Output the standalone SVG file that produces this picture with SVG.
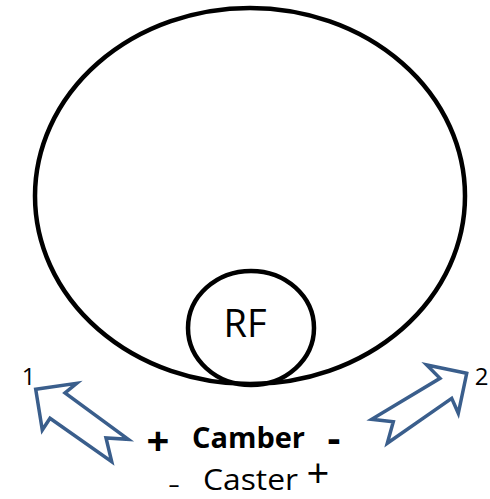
<svg xmlns="http://www.w3.org/2000/svg" width="490" height="499" viewBox="0 0 490 499">
<style>
.ring{fill:none;stroke:#000;stroke-width:4.5}
.arrow{fill:#fff;stroke:#3A5E8C;stroke-width:3.5;stroke-linejoin:miter}
.t{font-family:"Open Sans","Liberation Sans",sans-serif;fill:#000}
.b{font-weight:bold}
</style>
<rect width="490" height="499" fill="#fff"/>
<g id="wheel"><ellipse class="ring" cx="250" cy="196" rx="215" ry="188"/></g>
<g id="rf"><ellipse class="ring" cx="251" cy="328" rx="63" ry="57"/><text class="t" x="245" y="337" font-size="38" text-anchor="middle">RF</text></g>
<g id="connectors">
<g id="arrow1"><polygon class="arrow" points="35.7,389.3 76.7,383.3 65,393 128.3,439.3 106,438 111.7,461.7 50,418.3 42.3,430"/><text class="t" x="28.5" y="385" font-size="24" text-anchor="middle">1</text></g>
<g id="arrow2"><polygon class="arrow" points="466.7,373.3 426.7,365 440,378.3 371.7,419.3 393.3,421.7 387.3,443.3 451.7,398.3 458.3,413.3"/><text class="t" x="481.5" y="385" font-size="24" text-anchor="middle">2</text></g>
</g>
<g id="camber">
<text class="t b" x="158" y="455" font-size="40" text-anchor="middle">+</text>
<text class="t b" x="192" y="448" font-size="29" textLength="113" lengthAdjust="spacingAndGlyphs">Camber</text>
<text class="t b" x="334" y="452" font-size="40" text-anchor="middle">-</text>
</g>
<g id="caster">
<text class="t" x="168" y="493" font-size="24" textLength="12" lengthAdjust="spacingAndGlyphs">-</text>
<text class="t" x="203" y="490" font-size="30" textLength="95" lengthAdjust="spacingAndGlyphs">Caster</text>
<text class="t" x="318" y="488" font-size="40" text-anchor="middle">+</text>
</g>
</svg>
